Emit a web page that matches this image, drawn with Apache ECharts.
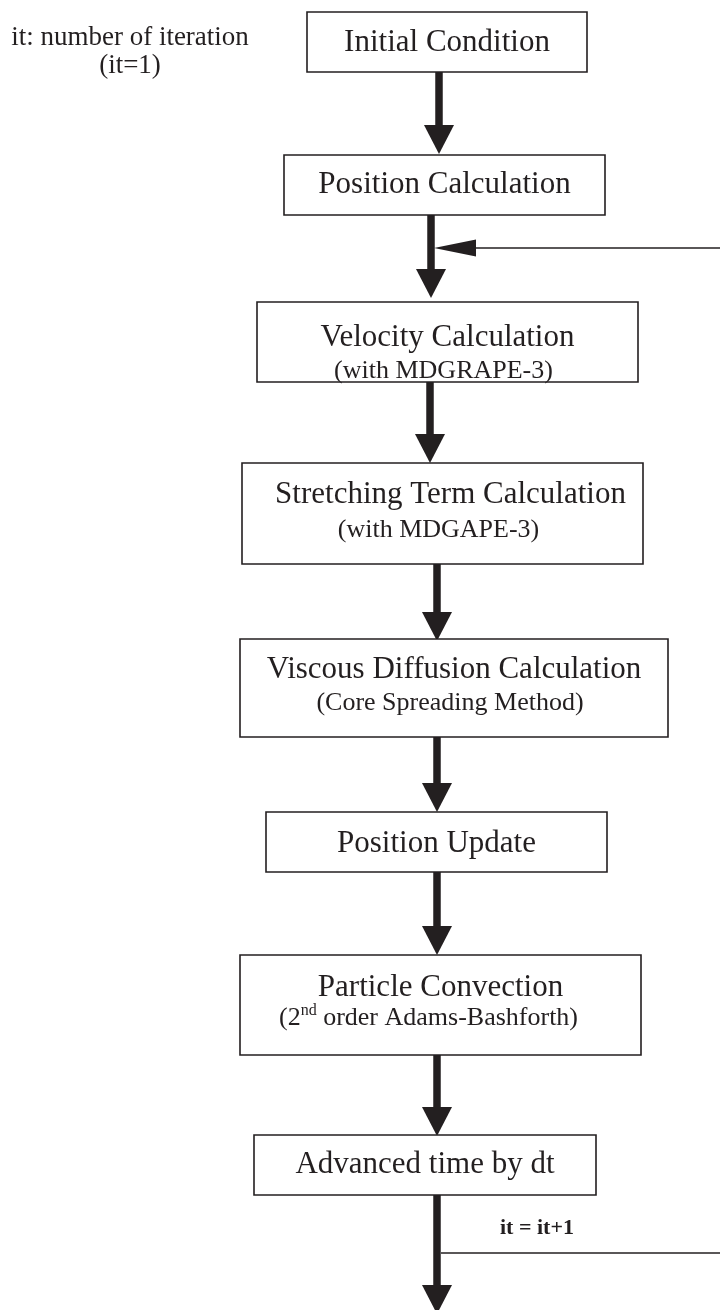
<!DOCTYPE html>
<html><head><meta charset="utf-8">
<script src="https://cdn.jsdelivr.net/npm/echarts@6/dist/echarts.min.js"></script>
<style>html,body{margin:0;padding:0;background:#fff}#chart{width:720px;height:1310px}</style>
</head><body><div id="chart"></div>
<script>
// ---- flowchart content ----
const steps = ['Initial Condition', 'Position Calculation', 'Velocity Calculation', 'Stretching Term Calculation',
  'Viscous Diffusion Calculation', 'Position Update', 'Particle Convection', 'Advanced time by dt'];
const notes = ['', '', '(with MDGRAPE-3)', '(with MDGAPE-3)', '(Core Spreading Method)', '', '(2nd order Adams-Bashforth)', ''];
const legendLines = ['it: number of iteration', '(it=1)'];
const loopLabel = 'it = it+1';

// ---- layout in chart units (x: 0..720, y: 0..1310 top-down) ----
const boxLeft   = [307, 284, 257, 242, 240, 266, 240, 254];
const boxRight  = [587, 605, 638, 643, 668, 607, 641, 596];
const boxTop    = [12, 155, 302, 463, 639, 812, 955, 1135];
const boxBottom = [72, 215, 382, 564, 737, 872, 1055, 1195];
const titleY    = [43, 185, 338, 495, 670, 844, 988, 1165];
const noteY     = [0, 0, 371, 530, 703, 0, 1018, 0];
const arrowX    = [439, 431, 430, 437, 437, 437, 437, 437];
const arrowFrom = [72, 215, 382, 564, 737, 872, 1055, 1195];
const arrowTo   = [154, 298, 463, 641, 812, 955, 1136, 1314];
const loopY     = [1253, 248];   // leave level, return level
const loopX     = [441, 722, 434]; // leave x, right edge, return tip x
const legendX   = 130;
const legendY   = [38, 66];
const loopLabelPos = [500, 1228];

const INK = '#231f20';
const SERIF = '"Liberation Serif","Times New Roman",serif';

const chart = echarts.init(document.getElementById('chart'), null, {renderer: 'canvas'});

function fmtNote(s) { return s.replace(/(\d)(nd|st|rd|th)\b/, '$1{sup|$2}'); }

const option = {
  animation: false,
  backgroundColor: '#ffffff',
  grid: {left: 0, right: 0, top: 0, bottom: 0},
  xAxis: {type: 'value', min: 0, max: 720, show: false},
  yAxis: {type: 'value', min: 0, max: 1310, inverse: true, show: false},
  series: [
    { // arrows
      type: 'custom', coordinateSystem: 'cartesian2d', silent: true,
      data: arrowX.map((x, i) => [x, arrowFrom[i], arrowTo[i]]),
      renderItem: function (params, api) {
        const x = api.value(0), y0 = api.value(1), y1 = api.value(2);
        const p0 = api.coord([x, y0]), p1 = api.coord([x, y1]);
        const headLen = 29, halfW = 15, shaftW = 7.5;
        return {type: 'group', children: [
          {type: 'rect', shape: {x: p0[0] - shaftW / 2, y: p0[1], width: shaftW, height: p1[1] - headLen - p0[1] + 2},
           style: {fill: INK}},
          {type: 'polygon', shape: {points: [[p1[0] - halfW, p1[1] - headLen], [p1[0] + halfW, p1[1] - headLen], [p1[0], p1[1]]]},
           style: {fill: INK}}
        ]};
      }
    },
    { // feedback loop
      type: 'custom', coordinateSystem: 'cartesian2d', silent: true,
      data: [[loopX[0], loopY[0], loopX[1], loopY[1], loopX[2]]],
      renderItem: function (params, api) {
        const a = api.coord([api.value(0), api.value(1)]);
        const b = api.coord([api.value(2), api.value(1)]);
        const c = api.coord([api.value(2), api.value(3)]);
        const tip = api.coord([api.value(4), api.value(3)]);
        const headLen = 42, halfH = 8.5;
        return {type: 'group', children: [
          {type: 'polyline', shape: {points: [a, b]}, style: {stroke: INK, lineWidth: 1.6, fill: null}},
          {type: 'polyline', shape: {points: [c, [tip[0] + headLen - 1, tip[1]]]}, style: {stroke: INK, lineWidth: 1.6, fill: null}},
          {type: 'polygon', shape: {points: [[tip[0], tip[1]], [tip[0] + headLen, tip[1] - halfH], [tip[0] + headLen, tip[1] + halfH]]},
           style: {fill: INK}}
        ]};
      }
    },
    { // boxes with titles and notes
      type: 'custom', coordinateSystem: 'cartesian2d', silent: true,
      data: steps.map((s, i) => [boxLeft[i], boxTop[i], boxRight[i], boxBottom[i], titleY[i], noteY[i]]),
      renderItem: function (params, api) {
        const i = params.dataIndex;
        const tl = api.coord([api.value(0), api.value(1)]);
        const br = api.coord([api.value(2), api.value(3)]);
        const cx = (tl[0] + br[0]) / 2;
        const ty = api.coord([0, api.value(4)])[1];
        const children = [
          {type: 'rect', shape: {x: tl[0], y: tl[1], width: br[0] - tl[0], height: br[1] - tl[1]},
           style: {fill: '#ffffff', stroke: INK, lineWidth: 1.6}},
          {type: 'text', x: cx + (i === 3 ? 8 : 0), y: ty,
           style: {text: steps[i], fill: INK, font: '31px ' + SERIF, align: 'center', verticalAlign: 'middle'}}
        ];
        if (notes[i]) {
          const ny = api.coord([0, api.value(5)])[1];
          children.push({type: 'text', x: cx - (i === 6 ? 12 : 4), y: ny,
            style: {text: fmtNote(notes[i]), fill: INK, font: '26px ' + SERIF, fontSize: 26, fontFamily: SERIF,
              align: 'center', verticalAlign: 'middle', lineHeight: 30,
              rich: {sup: {fontSize: 16, fontFamily: SERIF, fill: INK, verticalAlign: 'top', lineHeight: 30}}}});
        }
        return {type: 'group', children: children};
      }
    },
    { // annotations
      type: 'custom', coordinateSystem: 'cartesian2d', silent: true,
      data: [[legendX, legendY[0]], [legendX, legendY[1]], [loopLabelPos[0], loopLabelPos[1]]],
      renderItem: function (params, api) {
        const i = params.dataIndex;
        const p = api.coord([api.value(0), api.value(1)]);
        if (i < 2) {
          return {type: 'text', x: p[0], y: p[1],
            style: {text: legendLines[i], fill: INK, font: '27px ' + SERIF, align: 'center', verticalAlign: 'middle'}};
        }
        return {type: 'text', x: p[0], y: p[1],
          style: {text: loopLabel, fill: INK, font: 'bold 22px ' + SERIF, align: 'left', verticalAlign: 'middle'}};
      }
    }
  ]
};
chart.setOption(option);
</script></body></html>
